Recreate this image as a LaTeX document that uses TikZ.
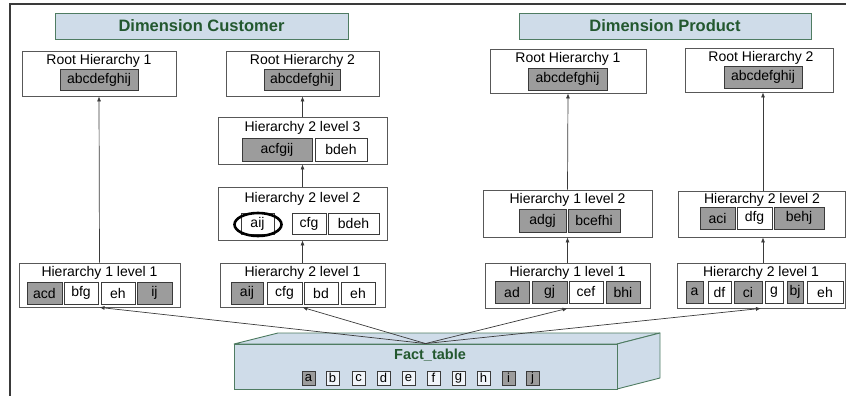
\documentclass[tikz,border=0pt]{standalone}
\usepackage{fontspec}
\setmainfont{Liberation Sans}
\usetikzlibrary{arrows.meta,shapes.geometric}
\definecolor{gfill}{HTML}{9C9C9C}
\definecolor{bfill}{HTML}{CFDCE9}
\definecolor{bedge}{HTML}{4F7C62}
\definecolor{btext}{HTML}{23582F}
\definecolor{lfill}{HTML}{F0F4F9}
\definecolor{ink}{HTML}{3A3A3A}
\newcommand\bx[6]{\node[#6,minimum width={(#4)-(#2)},minimum height={(#5)-(#3)}] (#1) at ({((#2)+(#4))/2},{((#3)+(#5))/2}) {};}
\newcommand\cl[7]{\node[#6,minimum width={(#4)-(#2)},minimum height={(#5)-(#3)}] (#1) at ({((#2)+(#4))/2},{((#3)+(#5))/2}) {#7};}
\tikzset{
  hbox/.style={rectangle,draw=ink!85,fill=white,line width=0.8pt,inner sep=0pt},
  cellbase/.style={rectangle,draw=ink,line width=0.9pt,inner sep=0pt,font=\fontsize{14}{16}\selectfont},
  gcell/.style={cellbase,fill=gfill},
  wcell/.style={cellbase,fill=white},
  fgcell/.style={rectangle,draw=ink,line width=0.8pt,inner sep=0pt,fill=gfill,font=\fontsize{13}{15}\selectfont},
  fwcell/.style={rectangle,draw=ink,line width=0.8pt,inner sep=0pt,fill=lfill,font=\fontsize{13}{15}\selectfont},
  ttl/.style={inner sep=0pt,font=\fontsize{14}{16}\selectfont},
  banner/.style={rectangle,draw=bedge,fill=bfill,line width=0.9pt,inner sep=0pt,text=btext,font=\fontsize{16.5}{18}\selectfont\bfseries},
  factbox/.style={rectangle,draw=bedge,fill=bfill,line width=0.9pt,inner sep=0pt},
  facetop/.style={draw=bedge,fill=bfill,line width=0.9pt,line join=round},
  facttitle/.style={inner sep=0pt,text=btext,font=\fontsize{14.5}{16}\selectfont\bfseries},
  arr/.style={draw=ink,line width=0.7pt,-{Latex[length=5pt,width=4pt]}},
  frame/.style={draw=ink,line width=1.5pt}
}
\begin{document}
\begin{tikzpicture}[x=1pt,y=-1pt]
\useasboundingbox (0,0) rectangle (846,396);
\draw[frame] (10,396) -- (10,4) -- (846,4);
% ---- Dimension Customer
\cl{bc}{55}{13}{348}{39}{banner}{Dimension Customer}
\bx{cr1}{22}{51}{176}{96}{hbox}
\node[ttl] (cr1t) at (99,60.5) {Root Hierarchy 1};
\cl{cr1a}{60}{69}{138}{90}{gcell}{abcdefghij}
\bx{cr2}{226}{51}{379}{96}{hbox}
\node[ttl] (cr2t) at (302.5,60.5) {Root Hierarchy 2};
\cl{cr2a}{264}{69}{340}{90}{gcell}{abcdefghij}
\bx{c23}{218}{117}{387}{164}{hbox}
\node[ttl] (c23t) at (302.5,127.5) {Hierarchy 2 level 3};
\cl{c23a}{242}{138}{312}{161}{gcell}{acfgij}
\cl{c23b}{315}{138}{367}{161}{wcell}{bdeh}
\bx{c22}{218}{187}{387}{240}{hbox}
\node[ttl] (c22t) at (302.5,199) {Hierarchy 2 level 2};
\cl{c22a}{241}{213}{274}{234}{wcell}{aij}
\cl{c22b}{292}{213}{326}{234}{wcell}{cfg}
\cl{c22c}{328}{213}{379}{234}{wcell}{bdeh}
\node[ellipse,draw=black,line width=2.6pt,minimum width=47,minimum height=23,inner sep=0pt] (c22e) at (258,224.5) {};
\bx{c21}{220}{263}{385}{307}{hbox}
\node[ttl] (c21t) at (302.5,272.5) {Hierarchy 2 level 1};
\cl{c21a}{231}{282}{263}{304}{gcell}{aij}
\cl{c21b}{267}{282}{302}{304}{wcell}{cfg}
\cl{c21c}{304}{282}{338}{304}{wcell}{bd}
\cl{c21d}{341}{282}{375}{304}{wcell}{eh}
\bx{c11}{19}{263}{180}{307}{hbox}
\node[ttl] (c11t) at (99.5,272.5) {Hierarchy 1 level 1};
\cl{c11a}{27}{282}{62}{304}{gcell}{acd}
\cl{c11b}{64}{282}{98}{304}{wcell}{bfg}
\cl{c11c}{101}{282}{135}{304}{wcell}{eh}
\cl{c11d}{137}{282}{172}{304}{gcell}{ij}
% ---- Dimension Product
\cl{bp}{519}{13}{811}{39}{banner}{Dimension Product}
\bx{pr1}{490}{49}{646}{93}{hbox}
\node[ttl] (pr1t) at (568,58.5) {Root Hierarchy 1};
\cl{pr1a}{528}{68}{607}{90}{gcell}{abcdefghij}
\bx{pr2}{685}{48}{833}{92}{hbox}
\node[ttl] (pr2t) at (761,57.5) {Root Hierarchy 2};
\cl{pr2a}{724}{66}{802}{88}{gcell}{abcdefghij}
\bx{p12}{483}{190}{652}{237}{hbox}
\node[ttl] (p12t) at (567.5,199.5) {Hierarchy 1 level 2};
\cl{p12a}{519}{209}{566}{232}{gcell}{adgj}
\cl{p12b}{568}{209}{620}{232}{gcell}{bcefhi}
\bx{p22}{678}{191}{845}{237}{hbox}
\node[ttl] (p22t) at (762,199.5) {Hierarchy 2 level 2};
\cl{p22a}{700}{207}{735}{229}{gcell}{aci}
\cl{p22b}{737}{207}{772}{229}{wcell}{dfg}
\cl{p22c}{774}{207}{824}{229}{gcell}{behj}
\bx{p11}{485}{263}{650}{308}{hbox}
\node[ttl] (p11t) at (567.5,272.5) {Hierarchy 1 level 1};
\cl{p11a}{495}{281}{529}{303}{gcell}{ad}
\cl{p11b}{532}{281}{567}{303}{gcell}{gj}
\cl{p11c}{569}{281}{603}{303}{wcell}{cef}
\cl{p11d}{606}{281}{640}{303}{gcell}{bhi}
\bx{p21}{677}{263}{845}{308}{hbox}
\node[ttl] (p21t) at (761,272.5) {Hierarchy 2 level 1};
\cl{p21a}{686}{281}{703}{303}{gcell}{a}
\cl{p21b}{708}{281}{731}{303}{wcell}{df}
\cl{p21c}{734}{281}{762}{303}{gcell}{ci}
\cl{p21d}{765}{281}{783}{303}{wcell}{g}
\cl{p21e}{787}{281}{803}{303}{gcell}{bj}
\cl{p21f}{807}{281}{843}{303}{wcell}{eh}
% ---- Fact table
\path[facetop] (234,344) -- (278,333) -- (660,333) -- (617,344) -- cycle;
\path[facetop] (617,344) -- (660,333) -- (660,378) -- (617,389) -- cycle;
\bx{fact}{234}{344}{617}{389}{factbox}
\node[facttitle] (factt) at (430,355) {Fact\_table};
\cl{fa}{302}{371}{315}{385}{fgcell}{a}
\cl{fb}{326}{371}{339}{385}{fwcell}{b}
\cl{fc}{352}{371}{365}{385}{fwcell}{c}
\cl{fd}{377}{371}{390}{385}{fwcell}{d}
\cl{fe}{402}{371}{415}{385}{fwcell}{e}
\cl{ff}{427}{371}{440}{385}{fwcell}{f}
\cl{fg}{452}{371}{465}{385}{fwcell}{g}
\cl{fh}{477}{371}{490}{385}{fwcell}{h}
\cl{fi}{502}{371}{515}{385}{fgcell}{i}
\cl{fj}{526}{371}{539}{385}{fgcell}{j}
% ---- connectors
\coordinate (pax) at (763,0);
\draw[arr] (c11.north) -- (cr1.south);
\draw[arr] (c23.north) -- (cr2.south);
\draw[arr] (c22.north) -- (c23.south);
\draw[arr] (c21.north) -- (c22.south);
\draw[arr] (p11.north) -- (p12.south);
\draw[arr] (p12.north) -- (pr1.south);
\draw[arr] (p21.north -| pax) -- (p22.south -| pax);
\draw[arr] (p22.north -| pax) -- (pr2.south -| pax);
\draw[arr] (fact.north) -- (c11.south);
\draw[arr] (fact.north) -- (c21.south);
\draw[arr] (fact.north) -- (p11.south);
\draw[arr] (fact.north) -- (p21.south);
\end{tikzpicture}
\end{document}
